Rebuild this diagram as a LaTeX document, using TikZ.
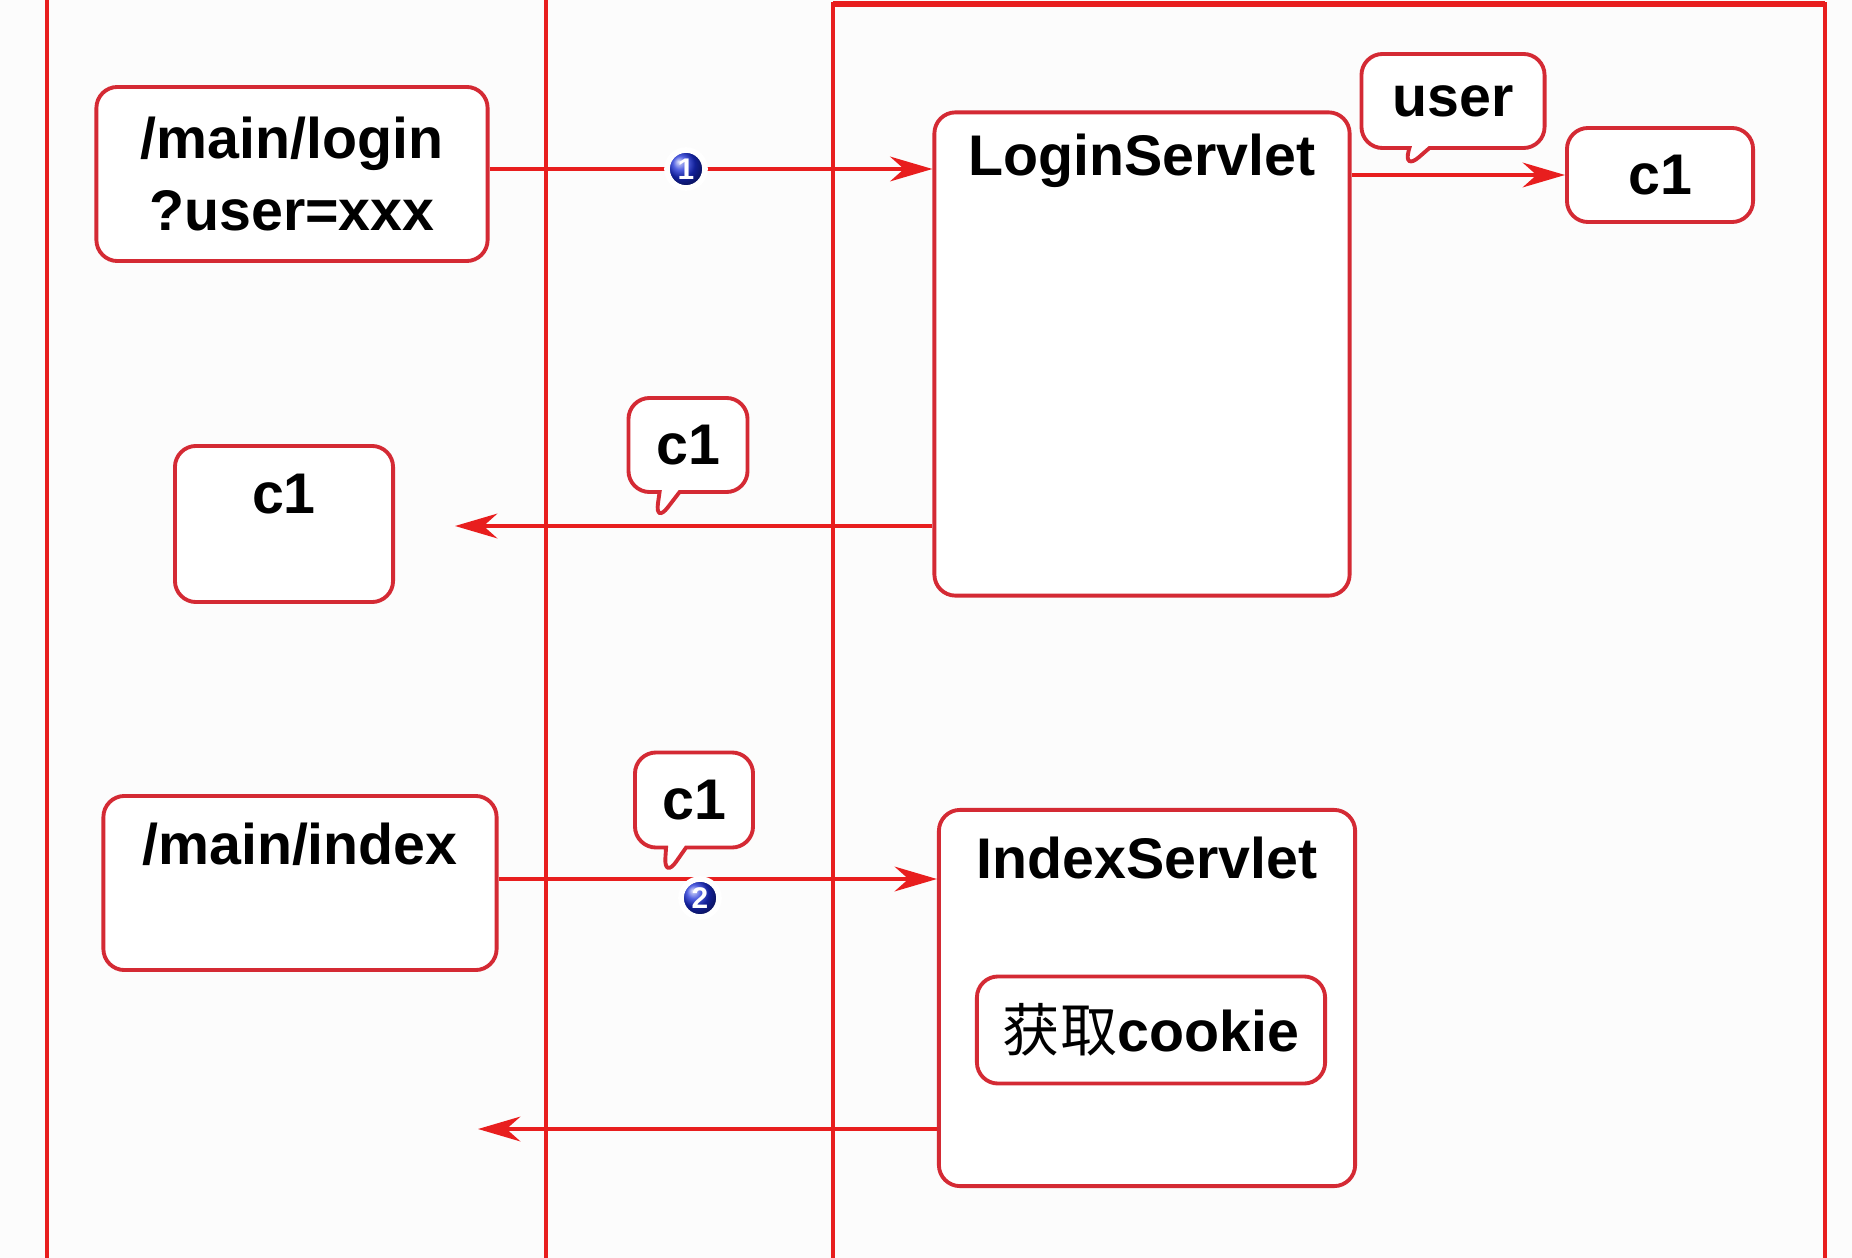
\documentclass[tikz,border=0pt]{standalone}
\usepackage{fontspec}
\setmainfont{Liberation Sans}
\newfontfamily\cjk{Noto Sans CJK SC}
\usetikzlibrary{arrows.meta, positioning, shapes.callouts, shadings}
\definecolor{linered}{RGB}{232,30,30}
\definecolor{boxred}{RGB}{212,42,52}
\definecolor{dotblue}{RGB}{25,45,215}
\definecolor{paper}{RGB}{252,252,252}

\begin{document}
\begin{tikzpicture}[x=0.01cm, y=-0.01cm,
  every node/.style={align=center},
  every label/.style={font=\bfseries\fontsize{16.3}{20.2}\selectfont},
  laneline/.style={linered, line width=1.3pt},
  box/.style={draw=boxred, line width=1.1pt, rounded corners=6pt, fill=white, inner sep=0pt, font=\bfseries\fontsize{16.3}{20.2}\selectfont},
  tagbox/.style={box, rectangle callout, callout pointer width=0.2cm},
  flow/.style={-{Stealth[length=12pt, width=7pt]}, linered, line width=1.3pt},
  numdot/.style={circle, ball color=dotblue, draw=white, line width=1.6pt, text=white, inner sep=0pt, minimum size=0.38cm, font=\bfseries\fontsize{8.5}{8.5}\selectfont}
]
  \useasboundingbox (0,0) rectangle (1852,1258);
  \fill[paper] (0,0) rectangle (1852,1258);

  \draw[laneline] (47,0) -- (47,1258);
  \draw[laneline] (546,0) -- (546,1258);
  \draw[laneline] (833,1258) -- (833,4) -- (1825,4) -- (1825,1258);
  \draw[linered, line width=1.8pt] (833,4) -- (1825,4);

  \node[box, minimum width=3.91cm, minimum height=1.74cm] (login) at (292,174) {/main/login\\?user=xxx};
  \node[box, minimum width=4.15cm, minimum height=4.83cm,
    label={[anchor=center, yshift=-0.5cm]north:LoginServlet}] (loginsv) at (1142,354) {};
  \node[box, minimum width=1.86cm, minimum height=0.94cm] (cookiesv) at (1660,175) {c1};
  \node[box, minimum width=2.18cm, minimum height=1.56cm,
    label={[anchor=center, yshift=-0.5cm]north:c1}] (cookiebr) at (284,524) {};

  \node[box, minimum width=3.93cm, minimum height=1.74cm,
    label={[anchor=center, yshift=-0.5cm]north:/main/index}] (index) at (300,883) {};
  \node[box, minimum width=4.16cm, minimum height=3.76cm,
    label={[anchor=center, yshift=-0.5cm]north:IndexServlet}] (indexsv) at (1147,998) {};
  \node[box, minimum width=3.48cm, minimum height=1.07cm] (getcookie) at (1151,1030) {{\cjk\mdseries 获取}cookie};

  \coordinate (at1) at (686,169);
  \coordinate (at2) at (700,898);
  \coordinate (back1) at (455,526);
  \coordinate (back2) at (478,1129);
  \coordinate (usertip) at (1403,171);
  \coordinate (backtip) at (655,524);
  \coordinate (sendtip) at (664,879);

  \draw[flow] (login.east |- at1) -- (loginsv.west |- at1);
  \draw[flow] (loginsv.east |- cookiesv.west) -- (cookiesv.west);
  \draw[flow] (loginsv.west |- back1) -- (back1);
  \draw[flow] (index.east |- sendtip) -- (indexsv.west |- sendtip);
  \draw[flow] (indexsv.west |- back2) -- (back2);

  \node[tagbox, minimum width=1.83cm, minimum height=0.94cm, callout absolute pointer={(usertip)}] (usertag) at (1453,101) {user};
  \node[tagbox, minimum width=1.19cm, minimum height=0.94cm, callout absolute pointer={(backtip)}] (backtag) at (688,445) {c1};
  \node[tagbox, minimum width=1.18cm, minimum height=0.95cm, callout absolute pointer={(sendtip)}] (sendtag) at (694,800) {c1};

  \node[numdot] (step1) at (at1) {1};
  \node[numdot] (step2) at (at2) {2};
\end{tikzpicture}
\end{document}
